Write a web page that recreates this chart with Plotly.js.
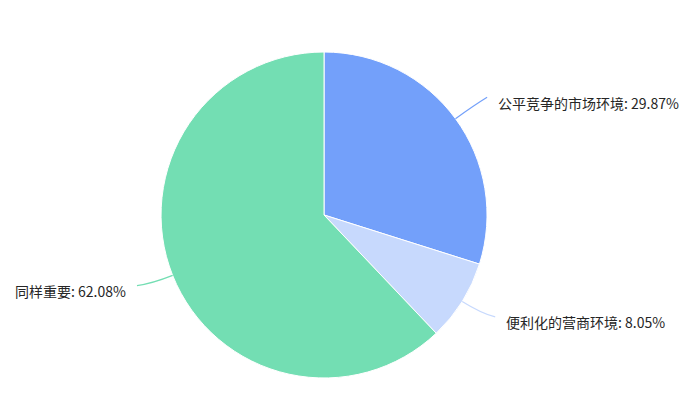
<!DOCTYPE html>
<html>
<head>
<meta charset="utf-8">
<script src="https://cdn.plot.ly/plotly-3.0.1.min.js"></script>
<style>html,body{margin:0;padding:0;background:#fff;}#chart{width:692px;height:401px;}</style>
</head>
<body>
<div id="chart"></div>
<script>
const categories = ["公平竞争的市场环境", "便利化的营商环境", "同样重要"];
const values = [29.87, 8.05, 62.08];
const colors = ["#73A0FA", "#C7D9FD", "#73DEB3"];

const W = 692, H = 401;
const dom = {x: [0.2327, 0.7038], y: [0.0574, 0.8703]};
const cx = (dom.x[0] + dom.x[1]) / 2 * W;
const cy = (1 - (dom.y[0] + dom.y[1]) / 2) * H;
const R = Math.min((dom.x[1] - dom.x[0]) * W, (dom.y[1] - dom.y[0]) * H) / 2;

const total = values.reduce((a, b) => a + b, 0);
const shapes = [], annotations = [];
let cum = 0;
const px = x => x / W, py = y => 1 - y / H;
values.forEach((v, i) => {
  const mid = (cum + v / 2) / total * 2 * Math.PI;
  cum += v;
  const sx = Math.sin(mid), sy = -Math.cos(mid);
  const side = sx >= 0 ? 1 : -1;
  const p0 = [cx + R * sx, cy + R * sy];
  const c = [cx + (R + 22) * sx, cy + (R + 22) * sy];
  const p1 = [cx + (R + 33) * sx + side * 5, cy + (R + 33) * sy - 2];
  shapes.push({
    type: "path", xref: "paper", yref: "paper",
    path: `M ${px(p0[0])} ${py(p0[1])} Q ${px(c[0])} ${py(c[1])} ${px(p1[0])} ${py(p1[1])}`,
    line: {color: colors[i], width: 1.2}
  });
  annotations.push({
    xref: "paper", yref: "paper",
    x: px(p1[0] + side * 9), y: py(p1[1] + 5.5),
    xanchor: side > 0 ? "left" : "right", yanchor: "middle",
    showarrow: false,
    text: `${categories[i]}: ${v.toFixed(2)}%`,
    font: {family: "Noto Sans CJK SC, Noto Sans, sans-serif", size: 14, color: "#262626"}
  });
});

Plotly.newPlot("chart", [{
  type: "pie",
  labels: categories,
  values: values,
  sort: false,
  direction: "clockwise",
  rotation: 0,
  textinfo: "none",
  hoverinfo: "label+percent",
  marker: {colors: colors, line: {color: "#ffffff", width: 1}},
  domain: dom
}], {
  width: W, height: H,
  margin: {l: 0, r: 0, t: 0, b: 0},
  showlegend: false,
  paper_bgcolor: "#ffffff",
  shapes: shapes,
  annotations: annotations
}, {displayModeBar: false, staticPlot: true});
</script>
</body>
</html>
